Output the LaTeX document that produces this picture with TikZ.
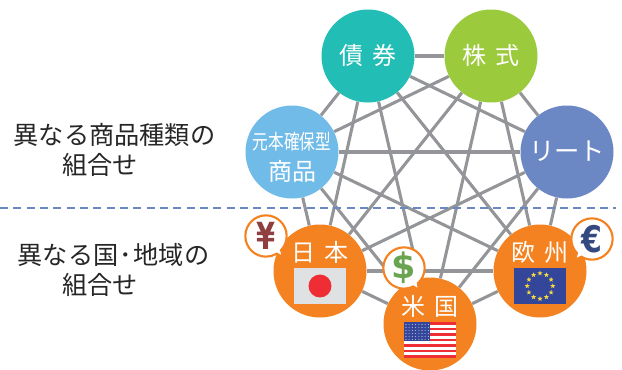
\documentclass[tikz,border=0pt]{standalone}
\usepackage{fontspec}
\setmainfont{Noto Sans CJK JP}
\newfontfamily\symfont{DejaVu Sans}[BoldFont={DejaVu Sans Bold}]
\usetikzlibrary{backgrounds, calc, shapes.geometric, shapes.callouts}
\definecolor{edgegray}{HTML}{949598}
\definecolor{dashblue}{HTML}{6C88C4}
\definecolor{bondteal}{HTML}{22BDB5}
\definecolor{stockgreen}{HTML}{9BCA3C}
\definecolor{reitblue}{HTML}{6C88C4}
\definecolor{safesky}{HTML}{71BBE8}
\definecolor{areaorange}{HTML}{F58220}
\definecolor{flaggray}{HTML}{E0E1E3}
\definecolor{flagred}{HTML}{EE2E34}
\definecolor{flagnavy}{HTML}{34469A}
\definecolor{flagyellow}{HTML}{F5D93F}
\definecolor{yenbrown}{HTML}{8F3F3F}
\definecolor{dollargreen}{HTML}{6AA450}
\definecolor{euronavy}{HTML}{34497F}
\tikzset{
    ballnode/.style={circle, inner sep=0pt, minimum size=69.75pt, text=white},
    ballword/.style={text=white, inner sep=0pt, font=\fontsize{18}{20}\selectfont},
    sideword/.style={inner sep=0pt, text=black!85, font=\fontsize{18.9}{22}\selectfont},
    linkline/.style={edgegray, line width=2.3pt},
    bubblenode/.style={ellipse callout, draw=areaorange, fill=white, line width=1.6pt,
        inner sep=0pt, minimum width=31pt, minimum height=31pt, callout pointer arc=16},
    moneymark/.style={inner sep=0pt, font=\symfont\bfseries\fontsize{25}{27}\selectfont},
    flagnode/.style={rectangle, inner sep=0pt, minimum width=39pt, minimum height=27pt},
}
\begin{document}
\begin{tikzpicture}[x=0.75pt, y=-0.75pt]
    \useasboundingbox (0,0) rectangle (622,369);
    % seven balls
    \node[ballnode, fill=bondteal] (bond) at (368,56) {};
    \node[ballnode, fill=stockgreen] (stock) at (491,56) {};
    \node[ballnode, fill=reitblue] (reit) at (567,152) {};
    \node[ballnode, fill=safesky] (safe) at (292,152) {};
    \node[ballnode, fill=areaorange] (japan) at (320,271) {};
    \node[ballnode, fill=areaorange] (usa) at (430,324) {};
    \node[ballnode, fill=areaorange] (euro) at (540,271) {};
    \begin{scope}[on background layer]
        \foreach \a/\others in {bond/{stock,reit,safe,japan,usa,euro},
                stock/{reit,safe,japan,usa,euro}, reit/{safe,japan,usa,euro},
                safe/{japan,usa,euro}, japan/{usa,euro}, usa/{euro}} {
            \foreach \b in \others {
                \draw[linkline] (\a) -- (\b);
            }
        }
    \end{scope}
    % words in the balls
    \node[ballword] (bondword) at (368,55) {債\hspace{7pt}券};
    \node[ballword] (stockword) at (491,55) {株\hspace{7pt}式};
    \node[ballword, font=\fontsize{19}{20}\selectfont] (reitword) at (567,151) {リート};
    \node[ballword, font=\fontsize{15.5}{18}\selectfont] (safeword) at (292,142) {\scalebox{0.76}[1]{元本確保型}};
    \node[ballword, font=\fontsize{18}{20}\selectfont] (safeword2) at (292,171) {商品};
    \node[ballword] (japanword) at (320,252) {日\hspace{7pt}本};
    \node[ballword] (usaword) at (430,306) {米\hspace{7pt}国};
    \node[ballword] (euroword) at (540,252) {欧\hspace{7pt}州};
    % flags
    \node[flagnode, fill=flaggray] (japanflag) at (320,286) {};
    \fill[flagred] (japanflag.center) circle (8.6pt);
    \node[flagnode, fill=white] (usaflag) at (430,340) {};
    \foreach \i in {0,2,...,12} {
        \fill[flagred] (404,322+\i*2.77) rectangle (456,322+\i*2.77+2.77);
    }
    \fill[flagnavy] (404,322) rectangle (430,341.4);
    \foreach \i in {0,...,5} {
        \foreach \j in {0,...,7} {
            \fill[white!70!flagnavy] (406+\j*3.2,324.5+\i*3) circle (0.4pt);
        }
    }
    \node[flagnode, fill=flagnavy] (euroflag) at (540,286) {};
    \foreach \i in {0,30,...,330} {
        \node[star, star points=5, star point ratio=2.4, fill=flagyellow, inner sep=0pt, minimum size=4pt]
            (euroflag\i) at ($(euroflag.center)+(\i+90:9.6pt)$) {};
    }
    % currency bubbles
    \node[bubblenode, callout absolute pointer={(283,257)}] (yen) at (266,236) {};
    \node[bubblenode, callout absolute pointer={(419,290)}] (dollar) at (404,268) {};
    \node[bubblenode, callout absolute pointer={(575,260)}] (eurosign) at (592,239) {};
    \node[moneymark, text=yenbrown] (yenmark) at (yen.center) {\scalebox{0.82}[1.12]{¥}};
    \node[moneymark, text=dollargreen] (dollarmark) at (dollar.center) {\scalebox{1.05}[1.05]{\$}};
    \node[moneymark, text=euronavy] (euromark) at (eurosign.center) {\scalebox{0.9}[1.1]{€}};
    % left side
    \node[sideword] (kindline) at (114.5,135) {異なる商品種類の};
    \node[sideword] (kindline2) at (100,165) {組合せ};
    \node[sideword] (arealine) at (113.5,255) {異なる国\hspace{1pt}･\hspace{1pt}地域の};
    \node[sideword] (arealine2) at (100,285) {組合せ};
    % border of the two groups
    \coordinate (dashstart) at (0,208);
    \coordinate (dashend) at (616,208);
    \draw[dashblue, line width=1.5pt, dash pattern=on 6pt off 4pt] (dashstart) -- (dashend);
\end{tikzpicture}
\end{document}
